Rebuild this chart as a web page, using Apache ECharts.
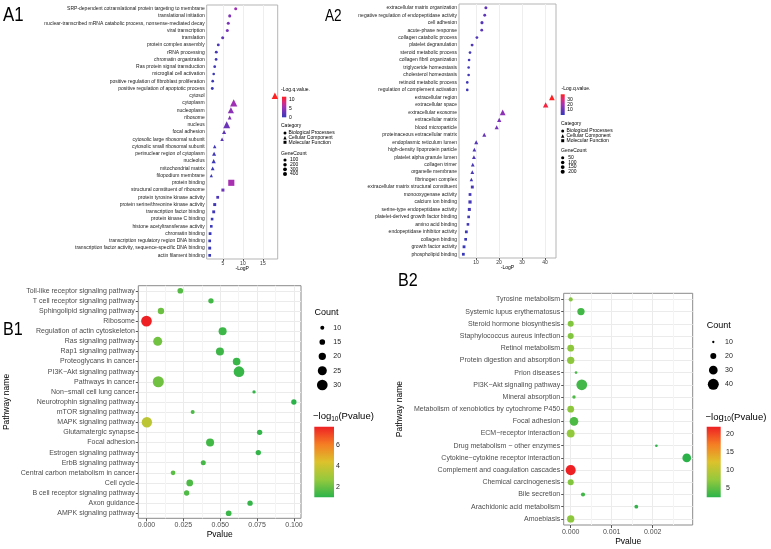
<!DOCTYPE html>
<html><head><meta charset="utf-8">
<script src="https://cdn.jsdelivr.net/npm/echarts@6/dist/echarts.min.js"></script>
<style>html,body{margin:0;padding:0;background:#fff}#c{width:771px;height:549px}</style>
</head><body><div id="c"></div>
<script>
// ---------------- DATA ----------------
const A1_TERMS = [
 'SRP-dependent cotranslational protein targeting to membrane','translational initiation',
 'nuclear-transcribed mRNA catabolic process, nonsense-mediated decay','viral transcription','translation',
 'protein complex assembly','rRNA processing','chromatin organization','Ras protein signal transduction',
 'microglial cell activation','positive regulation of fibroblast proliferation','positive regulation of apoptotic process',
 'cytosol','cytoplasm','nucleoplasm','ribosome','nucleus','focal adhesion','cytosolic large ribosomal subunit',
 'cytosolic small ribosomal subunit','perinuclear region of cytoplasm','nucleolus','mitochondrial matrix','filopodium membrane',
 'protein binding','structural constituent of ribosome','protein tyrosine kinase activity','protein serine/threonine kinase activity',
 'transcription factor binding','protein kinase C binding','histone acetyltransferase activity','chromatin binding',
 'transcription regulatory region DNA binding','transcription factor activity, sequence-specific DNA binding','actin filament binding'];
const A1_CATEGORY = ['BP','BP','BP','BP','BP','BP','BP','BP','BP','BP','BP','BP',
 'CC','CC','CC','CC','CC','CC','CC','CC','CC','CC','CC','CC',
 'MF','MF','MF','MF','MF','MF','MF','MF','MF','MF','MF'];
const A1_LOGP = [8.2,6.7,6.35,6.1,4.95,3.85,3.35,3.3,2.95,2.7,2.45,2.35,
 18.0,7.7,7.0,6.7,5.95,5.3,4.8,2.95,2.8,2.7,2.45,2.1,
 7.1,5.0,3.7,2.95,2.7,2.3,2.1,1.8,1.7,1.7,1.7];
const A1_LOGQ = [5.5,4.0,3.8,3.6,2.5,1.2,0.8,0.6,0.4,0.3,0.2,0.2,
 11.6,5.5,4.5,4.0,3.0,2.2,2.0,0.5,0.4,0.3,0.2,0.1,
 6.0,3.0,1.2,0.6,0.4,0.2,0.1,0,0,0,0];
const A1_GENECOUNT = [80,90,80,80,90,60,60,40,40,20,30,60,
 900,1400,800,70,1200,120,40,30,100,150,60,10,
 1900,80,40,70,60,20,20,40,30,60,30];
const A1_TICKS = [5,10,15];

const A2_TERMS = [
 'extracellular matrix organization','negative regulation of endopeptidase activity','cell adhesion','acute-phase response',
 'collagen catabolic process','platelet degranulation','steroid metabolic process','collagen fibril organization',
 'triglyceride homeostasis','cholesterol homeostasis','retinoid metabolic process','regulation of complement activation',
 'extracellular region','extracellular space','extracellular exosome','extracellular matrix','blood microparticle',
 'proteinaceous extracellular matrix','endoplasmic reticulum lumen','high-density lipoprotein particle',
 'platelet alpha granule lumen','collagen trimer','organelle membrane','fibrinogen complex',
 'extracellular matrix structural constituent','monooxygenase activity','calcium ion binding',
 'serine-type endopeptidase activity','platelet-derived growth factor binding','amino acid binding',
 'endopeptidase inhibitor activity','collagen binding','growth factor activity','phospholipid binding'];
const A2_CATEGORY = ['BP','BP','BP','BP','BP','BP','BP','BP','BP','BP','BP','BP',
 'CC','CC','CC','CC','CC','CC','CC','CC','CC','CC','CC','CC',
 'MF','MF','MF','MF','MF','MF','MF','MF','MF','MF'];
const A2_LOGP = [14.3,13.8,12.6,12.5,10.4,8.3,7.4,7.0,6.8,6.8,6.2,6.2,
 43.0,40.3,21.6,20.1,19.0,13.6,10.1,9.3,9.1,8.6,8.4,8.0,
 8.4,7.4,7.4,7.1,6.8,6.5,5.8,5.5,4.8,4.5];
const A2_LOGQ = [8,8,6,7,6,5,3,3,3,2,2,2,
 39.4,36,16,13,12,10,6,5,5,4,4,3,
 4,3,3,3,2,2,1.5,1,0.8,0.6];
const A2_GENECOUNT = [40,30,50,25,20,30,15,12,10,12,12,10,
 230,200,250,60,40,40,40,20,30,20,20,10,
 30,20,60,40,10,10,20,15,25,20];
const A2_TICKS = [10,20,30,40];

const B1_PATHWAYS = ['Toll-like receptor signaling pathway','T cell receptor signaling pathway','Sphingolipid signaling pathway',
 'Ribosome','Regulation of actin cytoskeleton','Ras signaling pathway','Rap1 signaling pathway','Proteoglycans in cancer',
 'PI3K\u2212Akt signaling pathway','Pathways in cancer','Non\u2212small cell lung cancer','Neurotrophin signaling pathway',
 'mTOR signaling pathway','MAPK signaling pathway','Glutamatergic synapse','Focal adhesion','Estrogen signaling pathway',
 'ErbB signaling pathway','Central carbon metabolism in cancer','Cell cycle','B cell receptor signaling pathway',
 'Axon guidance','AMPK signaling pathway'];
const B1_PVALUE = [0.0229,0.0437,0.0098,2e-8,0.0516,0.0076,0.0498,0.0611,0.0627,0.0080,0.0729,0.0999,
 0.0313,0.00025,0.0767,0.0431,0.0758,0.0385,0.0180,0.0293,0.0272,0.0702,0.0557];
const B1_COUNT = [15,14,17,30,22,25,22,21,30,31,8,14,10,29,14,22,14,13,12,18,14,14,15];
const B1_COUNT_LEGEND = [10,15,20,25,30];
const B1_COLOR_TICKS = [6,4,2];

const B2_PATHWAYS = ['Tyrosine metabolism','Systemic lupus erythematosus','Steroid hormone biosynthesis',
 'Staphylococcus aureus infection','Retinol metabolism','Protein digestion and absorption','Prion diseases',
 'PI3K\u2212Akt signaling pathway','Mineral absorption','Metabolism of xenobiotics by cytochrome P450','Focal adhesion',
 'ECM\u2212receptor interaction','Drug metabolism \u2212 other enzymes','Cytokine\u2212cytokine receptor interaction',
 'Complement and coagulation cascades','Chemical carcinogenesis','Bile secretion','Arachidonic acid metabolism','Amoebiasis'];
const B2_PVALUE = [2e-7,0.00025,3e-7,3e-7,1e-7,1e-7,0.00013,0.00027,0.00008,1e-7,0.00008,5e-8,0.00209,0.00283,
 1.3e-22,3e-7,0.0003,0.0016,1e-7];
const B2_COUNT = [15,25,20,20,23,25,11,39,13,23,30,27,11,30,36,20,15,14,25];
const B2_COUNT_LEGEND = [10,20,30,40];
const B2_COLOR_TICKS = [20,15,10,5];

// ---------------- STYLE ----------------
const FONT = 'Liberation Sans, Arial, sans-serif';
const A_COLORS = ['#3838b8','#6a34b8','#a530b5','#e0287a','#ff2020'];
const B_COLORS = ['#2bb34a','#95c93d','#dcc22c','#f57e24','#ee2024'];
const A1_RANGE = [0, 11.6], A2_RANGE = [0.6, 39.4], B1_RANGE = [1.0, 7.7], B2_RANGE = [2.55, 21.9];

const shapeOf = c => c === 'BP' ? 'circle' : (c === 'CC' ? 'triangle' : 'rect');
const a1Size = c => 2.2 + 0.09 * Math.sqrt(c);
const a2Size = c => 2.2 + 0.13 * Math.sqrt(c);
const b1Size = c => 4 + (c - 10) * 0.335;
function b2Size(c) {
  const pts = [[10,2.3],[20,6],[30,8.7],[40,11]];
  if (c <= 10) return Math.max(1.5, 2.3 + (c - 10) * 0.37);
  for (let i = 1; i < pts.length; i++) {
    if (c <= pts[i][0]) { const [x0,y0] = pts[i-1], [x1,y1] = pts[i]; return y0 + (c - x0) / (x1 - x0) * (y1 - y0); }
  }
  return 11 + (c - 40) * 0.23;
}

// grids
const G = {
  a1o: {left:206.7, top:5, width:71, height:254},
  a1i: {left:222.9, top:5, width:40, height:254},
  a2o: {left:459, top:4, width:97, height:254},
  a2i: {left:476, top:4, width:69, height:254},
  b1o: {left:138.3, top:285.7, width:162.7, height:232.6},
  b1i: {left:146.5, top:285.7, width:147.5, height:232.6},
  b2o: {left:563.7, top:293.3, width:129, height:231.7},
  b2i: {left:570.7, top:293.3, width:123, height:231.7}
};
function grid(g, border, color) {
  return Object.assign({show: !!border, borderColor: color || '#999', borderWidth: 1, backgroundColor: 'transparent', containLabel: false}, g);
}
const grids = [grid(G.a1o,true,'#b5b5b5'), grid(G.a1i), grid(G.a2o,true,'#b5b5b5'), grid(G.a2i),
               grid(G.b1o,true,'#8a8a8a'), grid(G.b1i), grid(G.b2o,true,'#8a8a8a'), grid(G.b2i)];

function outerX(gi, name, gap, size) {
  return {type:'value', gridIndex:gi, min:0, max:1, show:true, axisLine:{show:false}, axisTick:{show:false},
    axisLabel:{show:false}, splitLine:{show:false}, name:name, nameLocation:'middle', nameGap:gap,
    nameTextStyle:{fontFamily:FONT, fontSize:size, color:'#000'}};
}
function outerY(gi, data, o) {
  return {type:'category', gridIndex:gi, data:data, inverse:true, boundaryGap:true,
    axisLine:{show:false},
    axisTick:{show:o.tick, alignWithLabel:true, length:2.5, lineStyle:{color:'#555', width:1}},
    axisLabel:{fontFamily:FONT, fontSize:o.font, color:o.color, margin:o.margin},
    splitLine:{show:o.split, alignWithLabel:true, lineStyle:{color:'#ebebeb', width:1}},
    name:o.name || '', nameLocation:'middle', nameGap:o.nameGap || 0, nameRotate:90,
    nameTextStyle:{fontFamily:FONT, fontSize:8.5, color:'#000'}};
}
function innerX(gi, min, max, interval, o) {
  return {type:'value', gridIndex:gi, min:min, max:max, interval:interval,
    axisLine:{show:false},
    axisTick:{show:true, length:o.tickLen, lineStyle:{color:'#555', width:1}},
    axisLabel:{fontFamily:FONT, fontSize:o.font, color:o.color, margin:o.margin, formatter:o.fmt,
      showMinLabel:true, showMaxLabel:o.showMax !== false},
    splitLine:{show:true, lineStyle:{color:o.major, width:1}},
    minorTick:{show:false, splitNumber:2},
    minorSplitLine:{show:o.minor !== false, lineStyle:{color:'#f4f4f4', width:1}}};
}
function innerY(gi, data) {
  return {type:'category', gridIndex:gi, data:data, inverse:true, boundaryGap:true, show:false};
}

const xAxes = [
  outerX(0, '-LogP', 7, 5),
  innerX(1, A1_TICKS[0], A1_TICKS[A1_TICKS.length-1], 5, {tickLen:2, font:5, color:'#333', margin:2, fmt:v=>String(v), major:'#eeeeee', minor:false}),
  outerX(2, '-LogP', 7, 5),
  innerX(3, A2_TICKS[0], A2_TICKS[A2_TICKS.length-1], 10, {tickLen:2, font:5, color:'#333', margin:2, fmt:v=>String(v), major:'#eeeeee', minor:false}),
  outerX(4, 'Pvalue', 12, 8.5),
  innerX(5, 0, 0.1, 0.025, {tickLen:3, font:7, color:'#4d4d4d', margin:3.5, fmt:v=>v.toFixed(3), major:'#ebebeb'}),
  outerX(6, 'Pvalue', 12.5, 8.5),
  innerX(7, 0, 0.003, 0.001, {tickLen:3, font:7, color:'#4d4d4d', margin:4, fmt:v=>v.toFixed(3), major:'#ebebeb', showMax:false})
];
const yAxes = [
  outerY(0, A1_TERMS, {tick:false, font:5, color:'#1a1a1a', margin:2, split:false}),
  innerY(1, A1_TERMS),
  outerY(2, A2_TERMS, {tick:false, font:5, color:'#1a1a1a', margin:2, split:false}),
  innerY(3, A2_TERMS),
  outerY(4, B1_PATHWAYS, {tick:true, font:7, color:'#4d4d4d', margin:3.5, split:true, name:'Pathway name', nameGap:127}),
  innerY(5, B1_PATHWAYS),
  outerY(6, B2_PATHWAYS, {tick:true, font:7, color:'#4d4d4d', margin:3.5, split:true, name:'Pathway name', nameGap:160}),
  innerY(7, B2_PATHWAYS)
];

const nlog = p => -Math.log10(p);
const series = [
  {type:'scatter', xAxisIndex:1, yAxisIndex:1, clip:false,
   data:A1_TERMS.map((t,i)=>[A1_LOGP[i], t, A1_LOGQ[i], A1_GENECOUNT[i], A1_CATEGORY[i]]),
   symbol:v=>shapeOf(v[4]), symbolSize:v=>a1Size(v[3])*(v[4]==='CC'?1.3:1)},
  {type:'scatter', xAxisIndex:3, yAxisIndex:3, clip:false,
   data:A2_TERMS.map((t,i)=>[A2_LOGP[i], t, A2_LOGQ[i], A2_GENECOUNT[i], A2_CATEGORY[i]]),
   symbol:v=>shapeOf(v[4]), symbolSize:v=>a2Size(v[3])*(v[4]==='CC'?1.35:1)},
  {type:'scatter', xAxisIndex:5, yAxisIndex:5, clip:false,
   data:B1_PATHWAYS.map((t,i)=>[B1_PVALUE[i], t, nlog(B1_PVALUE[i]), B1_COUNT[i]]),
   symbol:'circle', symbolSize:v=>b1Size(v[3])},
  {type:'scatter', xAxisIndex:7, yAxisIndex:7, clip:false,
   data:B2_PATHWAYS.map((t,i)=>[B2_PVALUE[i], t, nlog(B2_PVALUE[i]), B2_COUNT[i]]),
   symbol:'circle', symbolSize:v=>b2Size(v[3])}
];
series.forEach(s => { s.itemStyle = {opacity:1}; s.emphasis = {disabled:true}; s.animation = false; });

const visualMaps = [
  {type:'continuous', show:false, seriesIndex:0, dimension:2, min:A1_RANGE[0], max:A1_RANGE[1], inRange:{color:A_COLORS}},
  {type:'continuous', show:false, seriesIndex:1, dimension:2, min:A2_RANGE[0], max:A2_RANGE[1], inRange:{color:A_COLORS}},
  {type:'continuous', show:false, seriesIndex:2, dimension:2, min:B1_RANGE[0], max:B1_RANGE[1], inRange:{color:B_COLORS}},
  {type:'continuous', show:false, seriesIndex:3, dimension:2, min:B2_RANGE[0], max:B2_RANGE[1], inRange:{color:B_COLORS}}
];

// ---------------- LEGENDS (graphic) ----------------
const gfx = [];
function T(x, y, s, size, extra) {
  gfx.push({type:'text', x:x, y:y, silent:true, style:Object.assign({text:s, fontFamily:FONT, fontSize:size, fill:'#000', verticalAlign:'middle', align:'left'}, extra || {})});
  return gfx[gfx.length-1];
}
function dot(x, y, d) { gfx.push({type:'circle', silent:true, shape:{cx:x, cy:y, r:d/2}, style:{fill:'#000'}}); }
function tri(x, y, d) { gfx.push({type:'polygon', silent:true, shape:{points:[[x, y-d/2],[x+d/2, y+d/2],[x-d/2, y+d/2]]}, style:{fill:'#000'}}); }
function sq(x, y, d) { gfx.push({type:'rect', silent:true, shape:{x:x-d/2, y:y-d/2, width:d, height:d}, style:{fill:'#000'}}); }
function colorbar(x, y, w, h, colors, range, ticks, lx, size, fill) {
  const stops = colors.map((c,i)=>({offset:i/(colors.length-1), color:c}));
  gfx.push({type:'rect', silent:true, shape:{x:x, y:y, width:w, height:h},
    style:{fill:new echarts.graphic.LinearGradient(0,1,0,0,stops)}});
  ticks.forEach(t => {
    const yy = y + h - (t - range[0]) / (range[1] - range[0]) * h;
    T(lx, yy, String(t), size, {fill: fill || '#000'});
  });
}

// A1 legend
T(281, 90, '-Log.q.value.', 5);
colorbar(282, 96.7, 4.3, 20.6, A_COLORS, A1_RANGE, [10,5,0], 289, 5);
T(281, 126, 'Category', 5);
dot(285, 133, 3); T(288.5, 133, 'Biological Processes', 5);
tri(285, 137.7, 3.4); T(288.5, 137.7, 'Cellular Component', 5);
sq(285, 142.3, 3); T(288.5, 142.3, 'Molecular Function', 5);
T(281, 153.3, 'GeneCount', 5);
[100,200,300,400].forEach((c,i)=>{ dot(285, 160 + i*4.67, a1Size(c)); T(290, 160 + i*4.67, String(c), 5); });

// A2 legend
T(561.5, 89, '-Log.q.value.', 5);
colorbar(560.7, 94.3, 4, 20.7, A_COLORS, A2_RANGE, [30,20,10], 567.3, 5);
T(561, 123.3, 'Category', 5);
dot(562.7, 131, 3); T(566.5, 131, 'Biological Processes', 5);
tri(562.7, 136, 3.4); T(566.5, 136, 'Cellular Component', 5);
sq(562.7, 140.7, 3); T(566.5, 140.7, 'Molecular Function', 5);
T(561, 150.7, 'GeneCount', 5);
[50,100,150,200].forEach((c,i)=>{ dot(562.7, 157.7 + i*4.7, a2Size(c)); T(568.3, 157.7 + i*4.7, String(c), 5); });

// B1 legend
T(314.5, 312.3, 'Count', 9);
B1_COUNT_LEGEND.forEach((c,i)=>{ dot(322.3, 327.7 + i*14.33, b1Size(c)); T(333.3, 327.7 + i*14.33, String(c), 7, {fill:'#222'}); });
gfx.push({type:'text', x:313, y:416.7, silent:true, style:{text:'{a|\u2212log}{s|10}{a|(Pvalue)}', fontFamily:FONT, verticalAlign:'middle',
  rich:{a:{fontFamily:FONT, fontSize:9.5, fill:'#000'}, s:{fontFamily:FONT, fontSize:6.5, fill:'#000', padding:[5,0,0,0]}}}});
colorbar(314.3, 426.7, 19.7, 70.6, B_COLORS, B1_RANGE, B1_COLOR_TICKS, 336, 7, '#222');

// B2 legend
T(706.7, 326, 'Count', 9);
B2_COUNT_LEGEND.forEach((c,i)=>{ dot(713.3, 342 + i*14.1, b2Size(c)); T(725, 342 + i*14.1, String(c), 7, {fill:'#222'}); });
gfx.push({type:'text', x:705.5, y:417, silent:true, style:{text:'{a|\u2212log}{s|10}{a|(Pvalue)}', fontFamily:FONT, verticalAlign:'middle',
  rich:{a:{fontFamily:FONT, fontSize:9.5, fill:'#000'}, s:{fontFamily:FONT, fontSize:6.5, fill:'#000', padding:[5,0,0,0]}}}});
colorbar(706.7, 426.7, 14, 70.6, B_COLORS, B2_RANGE, B2_COLOR_TICKS, 726, 7, '#222');

// panel labels
T(3, 15.5, 'A1', 21).scaleX = 0.8;
T(325, 16.5, 'A2', 17).scaleX = 0.8;
T(3, 330, 'B1', 19).scaleX = 0.85;
T(398, 281, 'B2', 19).scaleX = 0.85;

const chart = echarts.init(document.getElementById('c'), null, {renderer:'canvas'});
chart.setOption({
  animation:false, backgroundColor:'#ffffff', textStyle:{fontFamily:FONT},
  grid:grids, xAxis:xAxes, yAxis:yAxes, series:series, visualMap:visualMaps, graphic:gfx, tooltip:{show:false}
});
</script></body></html>
